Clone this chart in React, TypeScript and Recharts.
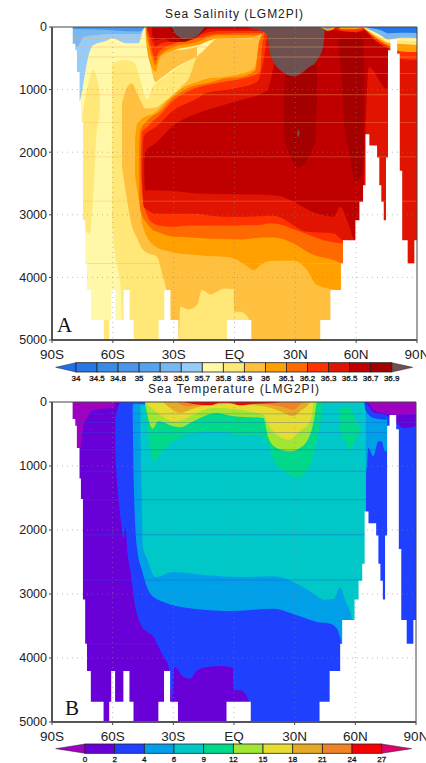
import React from "react";
import { ComposedChart, Area, Line, XAxis, YAxis, ReferenceArea } from "recharts";

type P = [number, number, number];

const latTicks = [-90, -60, -30, 0, 30, 60, 90];
const latLabels = ["90S", "60S", "30S", "EQ", "30N", "60N", "90N"];
const depthTicks = [0, 1000, 2000, 3000, 4000, 5000];
const modelLevels = [186, 319, 479, 745, 1083, 1527, 2075, 2782, 3777];

const salinityLevels = ["34", "34.5", "34.8", "35", "35.3", "35.5", "35.7", "35.8", "35.9", "36", "36.1", "36.2", "36.3", "36.5", "36.7", "36.9"];
const salinityColors = ["#1f6fe8", "#2578e6", "#3a8ae8", "#4a97ea", "#55a2ee", "#78b8f0", "#96ccf8", "#fff8a8", "#ffe878", "#ffc040", "#ffa000", "#ff6a00", "#ff3200", "#e01400", "#c00000", "#a50000", "#6e5050"];
const tempLevels = ["0", "2", "4", "6", "9", "12", "15", "18", "21", "24", "27"];
const tempColors = ["#a000c0", "#6a00d8", "#2040ff", "#00a0e8", "#00c8c8", "#00d88a", "#a0e632", "#e6dc32", "#e6aa28", "#f08228", "#fa0000", "#e0006e"];

// sea floor: depth at which each column ends
const seaFloor: [number, number][] = [
  [-90, 0], [-79.8, 266], [-78.5, 372], [-77.7, 718], [-76.4, 1197], [-75.7, 1516], [-74.7, 3086], [-73.6, 3777], [-72.7, 4203],
  [-70.8, 4682], [-64.5, 5000], [-61.7, 4682], [-60.7, 4203], [-58.8, 4682], [-54.7, 4203], [-51.7, 4682], [-49.7, 5000],
  [-37.4, 4682], [-34.6, 4203], [-31.6, 4682], [-27.7, 5000], [-3.7, 4682], [8.3, 5000], [42.3, 4682], [47.3, 4203], [52.5, 3777],
  [53.5, 3405], [59.6, 3086], [61.6, 2793], [63.4, 2527], [64.6, 1712], [66.5, 1894], [70.3, 2085], [71.4, 2527], [72.4, 2793],
  [73.6, 3086], [74.7, 2085], [75.7, 372], [76.9, 202], [80.2, 426], [81.5, 2298], [82.7, 3405], [85.4, 3777], [88.7, 3405], [90, 3405],
];

// ---- salinity regions: latitude, upper depth, lower depth
const sBase: P[] = [[-90, 0, 5000], [90, 0, 5000]];
const sFresh1: P[] = [[-80, 0, 1300], [-76.2, 0, 1165], [-73.7, 0, 739], [-72.1, 0, 473], [-69.6, 0, 287], [-63, 0, 218], [-60.6, 0, 181], [-53.2, 0, 260], [-47.4, 0, 260], [-45, 0, 48], [-44, 0, 0]];
const sFresh2: P[] = [[-80, 0, 260], [-77.5, 0, 320], [-74.5, 0, 160], [-69.6, 0, 130], [-60, 0, 110], [-47, 0, 110], [-44.5, 0, 0]];
const sFresh4: P[] = [[-80, 0, 30], [-66, 0, 40], [-58, 0, 60], [-47, 0, 70], [-45, 0, 30], [-44.5, 0, 0]];
const sYellowTongue: P[] = [[-75, 1400, 3086], [-72.1, 899, 3298], [-71.4, 800, 3298], [-69.6, 686, 2650], [-68, 800, 1700], [-66.5, 1050, 1450]];
const sYellowMain: P[] = [[-60.4, 585, 3139], [-58.8, 560, 3671], [-57.1, 540, 3937], [-56.3, 532, 4100], [-54.7, 532, 5000], [-49.7, 559, 5000], [-46.4, 851, 5000], [-44, 1117, 5000], [-42.5, 1150, 5000], [-41, 1000, 5000], [-39, 904, 5000], [-36.6, 850, 5000], [-30, 690, 5000], [-18.5, 479, 5000], [12.7, 0, 5000], [90, 0, 5000]];
const sYellowFloor: P[] = [[-64.5, 4682, 5000], [-61.7, 4682, 5000]];
const sOrangeMain: P[] = [[-55.5, 1224, 2234], [-53, 968, 2766], [-50.5, 904, 3192], [-48, 1064, 3378], [-45.6, 1224, 3538], [-44, 1303, 3591], [-38.2, 1277, 3671], [-35.7, 1224, 3937], [-33.6, 1170, 4203], [-31.6, 1144, 4655], [-30, 1091, 5000], [-27.5, 1011, 5000], [-26.7, 968, 4469], [-22.6, 825, 4511], [-18.5, 479, 4442], [-16, 399, 4203], [-11.9, 266, 4272], [-8.6, 186, 4229], [-5.3, 186, 4176], [-0.4, 186, 4187], [-0.2, 186, 4549], [2.9, 186, 4549], [7, 186, 4655], [8.3, 186, 5000], [9.5, 170, 5000], [12.7, 53, 5000], [90, 53, 5000]];
const sOrangeLobe: P[] = [[-42.8, 133, 372], [-40.7, 213, 718], [-39, 213, 878], [-36.6, 319, 825], [-30, 372, 665], [-18.5, 319, 479]];
const sUp36: P[] = [[-44, 0, 0], [-43.5, 0, 250], [-41.5, 0, 585], [-39, 0, 718], [-36.6, 0, 479], [-30, 0, 372], [-18.5, 0, 293], [-8.6, 0, 186], [9.5, 0, 170], [12.7, 0, 53], [14, 0, 0]];
const sUp361: P[] = [[-43.5, 0, 106], [-40.7, 0, 479], [-39, 0, 612], [-37.4, 0, 479], [-30, 0, 319], [-18.5, 0, 239], [-8.6, 0, 133], [9.5, 0, 133], [14.4, 0, 106]];
const sUp362: P[] = [[-43.1, 0, 80], [-40.7, 0, 372], [-39, 0, 532], [-37.4, 0, 399], [-30, 0, 266], [-18.5, 0, 186], [-8.6, 0, 106], [9.5, 0, 96], [14.4, 0, 96]];
const sUp363: P[] = [[-43.1, 0, 27], [-40.7, 0, 213], [-39, 0, 319], [-36.6, 0, 266], [-30, 0, 223], [-18.5, 0, 133], [-8.6, 0, 64], [9.5, 0, 64], [16, 0, 64]];
const sUp365: P[] = [[-40.7, 0, 106], [-39, 0, 213], [-34.9, 0, 186], [-30.8, 0, 239], [-25, 0, 239], [-18.5, 0, 133], [-14.4, 0, 53], [-13, 0, 27], [10, 0, 27]];
const sUp367: P[] = [[-32.5, 0, 20], [-30.8, 0, 80], [-25, 0, 223], [-18.5, 0, 160], [-14.4, 0, 40], [-13, 0, 0]];
const sUpMax: P[] = [[-30.8, 0, 0], [-29.2, 0, 106], [-25, 0, 186], [-20, 0, 170], [-15.2, 0, 27], [-14.5, 0, 0]];
const sBand36: P[] = [[-49, 1800, 2400], [-48, 1543, 2607], [-46.4, 1490, 2926], [-45.6, 1463, 3139], [-39.9, 1383, 3485], [-31.6, 1117, 3591], [-25, 958, 3628], [-18.5, 878, 3644], [-13.6, 825, 3660], [-5.3, 798, 3671], [-0.4, 771, 3697], [6.2, 718, 3820], [9.5, 665, 3884], [12.7, 266, 3804], [16, 53, 3750], [19.3, 0, 3735], [29.2, 0, 3735], [35.8, 0, 3884], [40.7, 0, 4123], [52.2, 0, 4203], [53, 0, 4203]];
const sBand361: P[] = [[-47, 1900, 2700], [-46.4, 1649, 2926], [-43.1, 1500, 3139], [-39.9, 1410, 3250], [-38.2, 1380, 3272], [-30, 1117, 3352], [-21.8, 958, 3362], [-13.6, 900, 3378], [-5.3, 825, 3385], [2.9, 800, 3394], [10.3, 692, 3370], [11.9, 266, 3365], [16, 27, 3362], [19.3, 0, 3362], [29.2, 0, 3458], [37.4, 0, 3618], [48.9, 0, 3724], [53.5, 0, 3788]];
const sBand362: P[] = [[-46.2, 2100, 2350], [-45.6, 1676, 2607], [-43.1, 1600, 3006], [-39.9, 1490, 3139], [-38.2, 1450, 3165], [-30, 1170, 3190], [-21.8, 1011, 3171], [-5.3, 878, 3171], [2.9, 830, 3171], [12.7, 718, 3160], [13.6, 319, 3158], [16, 27, 3139], [19.3, 0, 3139], [32.5, 0, 3272], [44, 0, 3405], [53.5, 0, 3458]];
const sBand363: P[] = [[-45.5, 2200, 2500], [-44.8, 1756, 2873], [-41.5, 1649, 2950], [-39.9, 1620, 2979], [-30, 1330, 2985], [-18.5, 1144, 2985], [-13.6, 1050, 3006], [-0.4, 985, 3032], [11.1, 878, 3025], [14.4, 532, 3020], [16.9, 53, 3017], [19.3, 0, 3017], [35.8, 0, 3272], [48.9, 0, 3298], [53.5, 0, 3405], [59.6, 0, 3431], [60, 0, 5000], [90, 0, 5000]];
const sBand365: P[] = [[-44.5, 2200, 2400], [-44, 1995, 2607], [-39, 1862, 2607], [-30, 1569, 2620], [-18.5, 1383, 2660], [-0.4, 1197, 2671], [16, 1011, 2680], [19.3, 638, 2690], [22.6, 106, 2700], [27.5, 53, 2766], [40.7, 27, 2979], [48.9, 53, 3032], [52.2, 53, 2873], [55.5, 53, 3086], [59.6, 53, 3405], [62.9, 53, 3405], [64.5, 53, 1700], [66.2, 106, 638], [75.2, 319, 985], [75.8, 319, 500]];
const sCol1: P[] = [[24.3, 1383, 1649], [25.1, 755, 1862], [26.7, 771, 1995], [31.7, 787, 2245], [35.8, 665, 2128], [38.2, 585, 1968], [39.9, 638, 1809], [40.7, 585, 1170]];
const sCol2: P[] = [[51.4, 186, 372], [53, 186, 904], [53.8, 186, 1436], [56.3, 186, 1968], [59.6, 160, 2447], [62.1, 160, 2394], [63.4, 213, 2288], [64, 638, 1170]];
const sDot: P[] = [[30.8, 1695, 1700], [31.5, 1639, 1756], [32.1, 1695, 1700]];
const sGrey: P[] = [[6.2, 0, 10], [9.5, 0, 27], [16, 0, 120], [17.6, 0, 426], [22.6, 0, 692], [29.2, 0, 787], [35.8, 0, 665], [40.7, 0, 532], [44, 0, 266], [44.5, 0, 60], [45, 0, 0]];
const sBlipOuter: P[] = [[42, 0, 0], [44, 0, 30], [46, 0, 60], [48.5, 0, 40], [50, 0, 0]];
const sBlipInner: P[] = [[44, 0, 8], [46, 0, 30], [48, 0, 12]];
const sStripRed: P[] = [[50, 0, 0], [52, 0, 60], [60, 0, 80], [64, 0, 35]];
const sStripOrange: P[] = [[52, 0, 30], [58, 0, 35], [64, 0, 10]];
const sNE362: P[] = [[64, 0, 35], [70, 0, 230], [76, 0, 340], [82, 0, 510], [90, 0, 527]];
const sNE361: P[] = [[64, 0, 25], [72, 0, 230], [76, 0, 300], [82, 0, 390], [90, 0, 399]];
const sNE359: P[] = [[64, 0, 20], [72, 0, 190], [76, 0, 255], [82, 0, 270], [90, 0, 287]];
const sNE357: P[] = [[64, 0, 12], [72, 0, 160], [76, 0, 230], [82, 0, 215], [90, 0, 224]];
const sNE355: P[] = [[64.5, 0, 10], [69, 0, 80], [72, 0, 130], [76, 0, 200], [82, 0, 170], [90, 0, 176]];
const sNE34: P[] = [[66, 0, 16], [72, 0, 50], [76, 0, 100], [82, 0, 90], [90, 0, 96]];

// ---- temperature regions
const tBase: P[] = [[-90, 0, 5000], [90, 0, 5000]];
const tBlue: P[] = [[-58.7, 234, 703], [-57.9, 156, 1224], [-57, 52, 1536], [-55.4, 0, 1995], [-54.6, 0, 2135], [-53.7, 0, 1953], [-52.6, 0, 2370], [-51.3, 0, 2630], [-48.8, 0, 3203], [-46.3, 0, 3463], [-43, 0, 3594], [-39.7, 0, 3672], [-37.3, 0, 3828], [-34.8, 0, 3984], [-32.3, 0, 4140], [-30.7, 0, 4661], [-29.4, 0, 4140], [-24.9, 0, 4297], [-21.6, 0, 4323], [-18.3, 0, 4192], [-13.4, 0, 4140], [-6, 0, 4125], [-0.5, 0, 4151], [-0.2, 0, 4505], [3.1, 0, 4505], [7.2, 0, 4661], [8.5, 0, 5000], [90, 0, 5000]];
const tSky: P[] = [[-50.1, 52, 182], [-49.6, 26, 1224], [-48, 26, 2265], [-45.5, 26, 2630], [-41.4, 26, 2995], [-34.8, 26, 3125], [-20, 0, 3229], [-0.5, 0, 3265], [19.6, 0, 3229], [31.1, 0, 3333], [41, 0, 3437], [47.6, 0, 3463], [50.9, 0, 3541], [53.4, 0, 3776], [63, 0, 5000], [64.9, 0, 3000], [65.3, 0, 1187], [65.8, 0, 980], [66.4, 0, 719], [68.9, 0, 849], [71.4, 0, 615], [73, 0, 615], [74.6, 0, 771], [75.7, 0, 771]];
const tTeal: P[] = [[-46.3, 52, 300], [-45.8, 52, 1224], [-45, 52, 2265], [-43, 26, 2450], [-38.9, 0, 2734], [-29.9, 0, 2656], [-13.4, 0, 2708], [3.1, 0, 2734], [19.6, 0, 2724], [29.5, 0, 2812], [39.4, 0, 2995], [44.3, 0, 3088], [49.3, 0, 3073], [52.5, 0, 2890], [55, 0, 3099], [58.3, 0, 3385], [59, 0, 5000], [65.2, 0, 5000]];
const tGreen: P[] = [[-44, 0, 146], [-41.5, 0, 667], [-39.5, 0, 927], [-35.7, 0, 771], [-30, 0, 615], [-20.1, 0, 484], [-8.6, 0, 458], [4.6, 0, 526], [11.2, 0, 510], [16.2, 0, 615], [19.5, 0, 901], [26, 0, 1109], [31.8, 0, 1187], [35.9, 0, 1083], [40.9, 0, 615], [43.4, 0, 146], [43.8, 0, 0]];
const tGreenPatch: P[] = [[52.4, 100, 460], [55, 94, 615], [57.3, 94, 745], [59.8, 250, 588], [62, 380, 484]];
const tLime: P[] = [[-44, 0, 10], [-43.2, 0, 146], [-40.2, 0, 417], [-37.4, 0, 302], [-30, 0, 380], [-26.7, 0, 396], [-20.1, 0, 302], [-16.8, 0, 250], [-8.6, 0, 172], [-0.3, 0, 224], [14.5, 0, 250], [17, 0, 562], [21.1, 0, 719], [27.7, 0, 771], [32.6, 0, 719], [37.6, 0, 510], [40, 0, 198], [40.9, 0, 0]];
const tYellow: P[] = [[-43.5, 0, 10], [-36.5, 0, 198], [-30, 0, 302], [-26.7, 0, 292], [-20.1, 0, 198], [-10, 0, 94], [14.5, 0, 198], [17, 0, 354], [21.1, 0, 510], [27.7, 0, 588], [32.6, 0, 458], [37.6, 0, 302], [39, 0, 94], [39.2, 0, 0]];
const tAmber: P[] = [[-35, 0, 0], [-31.6, 0, 94], [-26.7, 0, 172], [-21.7, 0, 120], [-13.5, 0, 52], [-2, 0, 31], [14.5, 0, 68], [22.8, 0, 146], [29.4, 0, 224], [32.6, 0, 146], [36, 0, 68], [37.6, 0, 0]];
const tOrange: P[] = [[-28.3, 0, 0], [-23.4, 0, 68], [-18.4, 0, 52], [-2, 0, 16], [14.5, 0, 31], [22.8, 0, 68], [29.4, 0, 120], [32.6, 0, 42], [34.3, 0, 0]];
const tRed: P[] = [[-25, 0, 0], [-20, 0, 31], [-11.8, 0, 52], [-6.9, 0, 10], [-2, 0, 16], [3, 0, 52], [9.6, 0, 31], [19.5, 0, 16], [22.8, 0, 0]];
const tColdSW: P[] = [[-80, 0, 339], [-78.4, 0, 443], [-77.6, 0, 729], [-76, 0, 729], [-74.3, 0, 339], [-72.7, 0, 260], [-70.2, 0, 130], [-59.5, 0, 78], [-58.7, 0, 0]];
const tBlueNE: P[] = [[64.3, 0, 0], [65.3, 0, 146], [68.9, 0, 250], [75.5, 0, 276]];
const tPurpleNE: P[] = [[64.8, 0, 0], [67.2, 0, 94], [69.7, 0, 172], [73.8, 0, 188], [80.4, 0, 328], [83.7, 0, 406], [90, 0, 380]];
const tColdNE: P[] = [[66.4, 0, 0], [68.9, 0, 120], [73, 0, 172], [75.5, 0, 182], [80.4, 0, 198], [90, 0, 188]];

const s = salinityColors;
const salinityLayers: [P[], string][] = [
  [sBase, s[7]], [sFresh1, s[6]], [sFresh2, s[5]], [sFresh4, s[3]],
  [sYellowTongue, s[8]], [sYellowMain, s[8]], [sYellowFloor, s[8]], [sOrangeMain, s[9]], [sOrangeLobe, s[9]],
  [sUp36, s[10]], [sUp361, s[11]], [sUp362, s[12]], [sUp363, s[13]], [sUp365, s[14]], [sUp367, s[15]], [sUpMax, s[16]],
  [sBand36, s[10]], [sBand361, s[11]], [sBand362, s[12]], [sBand363, s[13]], [sBand365, s[14]],
  [sCol1, s[15]], [sCol2, s[15]], [sDot, s[16]], [sGrey, s[16]],
  [sBlipOuter, s[10]], [sBlipInner, s[4]], [sStripRed, s[12]], [sStripOrange, s[10]],
  [sNE362, s[12]], [sNE361, s[10]], [sNE359, s[8]], [sNE357, s[7]], [sNE355, s[5]], [sNE34, s[1]],
];
const c = tempColors;
const tempLayers: [P[], string][] = [
  [tBase, c[1]], [tBlue, c[2]], [tSky, c[3]], [tTeal, c[4]], [tGreen, c[5]], [tGreenPatch, c[5]], [tLime, c[6]], [tYellow, c[7]], [tAmber, c[8]], [tOrange, c[9]], [tRed, c[10]],
  [tColdSW, c[0]], [tBlueNE, c[2]], [tPurpleNE, c[1]], [tColdNE, c[0]],
];

const rows = (pts: P[]) => pts.map(([lat, a, b]) => ({ lat, band: [a, b] }));
const FONT = "'Liberation Sans', Arial, sans-serif";

function Section({ layers, plotTop, plotH, plotRight, levelColor }: { layers: [P[], string][]; plotTop: number; plotH: number; plotRight: number; levelColor: string }) {
  const floorRows = seaFloor.map(([lat, d]) => ({ lat, band: [d, 5000] }));
  return (
    <ComposedChart width={426} height={plotTop + plotH + 30} margin={{ top: plotTop, right: 426 - plotRight, bottom: 0, left: 0 }}>
      <XAxis dataKey="lat" type="number" domain={[-90, 90]} ticks={latTicks} allowDataOverflow interval={0} height={30} tickSize={3} tickMargin={6}
        tickFormatter={(v: number) => latLabels[latTicks.indexOf(v)]} tick={{ fill: "#222", fontSize: 13.5, fontFamily: FONT }} axisLine={{ stroke: "#555", strokeWidth: 2 }} tickLine={{ stroke: "#444" }} />
      <YAxis type="number" reversed domain={[0, 5000]} ticks={depthTicks} allowDataOverflow interval={0} width={52} tickSize={3} tickMargin={2}
        tick={{ fill: "#222", fontSize: 12.5, fontFamily: FONT }} axisLine={{ stroke: "#555", strokeWidth: 2 }} tickLine={{ stroke: "#444" }} />
      {layers.map(([pts, color], i) => (
        <Area key={i} data={rows(pts)} dataKey="band" type="monotoneX" fill={color} fillOpacity={1} stroke="none" dot={false} activeDot={false} isAnimationActive={false} />
      ))}
      {modelLevels.map((d) => (
        <Area key={"l" + d} data={[{ lat: -90, band: [d - 7, d + 7] }, { lat: 90, band: [d - 7, d + 7] }]} dataKey="band" type="linear" fill={levelColor} fillOpacity={0.4} stroke="none" dot={false} activeDot={false} isAnimationActive={false} />
      ))}
      <Area data={floorRows} dataKey="band" type="stepAfter" fill="#fff" fillOpacity={1} stroke="none" dot={false} activeDot={false} isAnimationActive={false} />
      {latTicks.slice(1, -1).map((lat) => (
        <Line key={"g" + lat} data={[{ lat, depth: 0 }, { lat, depth: 5000 }]} dataKey="depth" stroke="#888" strokeOpacity={0.55} strokeWidth={1} strokeDasharray="1 4" dot={false} activeDot={false} isAnimationActive={false} />
      ))}
      {depthTicks.slice(1, -1).map((depth) => (
        <Line key={"h" + depth} data={[{ lat: -90, depth }, { lat: 90, depth }]} dataKey="depth" stroke="#888" strokeOpacity={0.55} strokeWidth={1} strokeDasharray="1 4" dot={false} activeDot={false} isAnimationActive={false} />
      ))}
      <ReferenceArea x1={-90} x2={90} y1={0} y2={5000} fill="none" stroke="#444" strokeWidth={1} ifOverflow="visible" />
    </ComposedChart>
  );
}

function ColorBar({ levels, colors, x0, x1, tipL, tipR, y, h }: { levels: string[]; colors: string[]; x0: number; x1: number; tipL: number; tipR: number; y: number; h: number }) {
  const w = (x1 - x0) / (levels.length - 1);
  return (
    <g>
      <polygon points={`${tipL},${y + h / 2} ${x0},${y} ${x0},${y + h}`} fill={colors[0]} stroke="#222" strokeWidth={0.5} />
      <polygon points={`${tipR},${y + h / 2} ${x1},${y} ${x1},${y + h}`} fill={colors[colors.length - 1]} stroke="#222" strokeWidth={0.5} />
      {levels.slice(1).map((_, i) => (
        <rect key={i} x={x0 + i * w} y={y} width={w} height={h} fill={colors[i + 1]} stroke="#222" strokeWidth={0.8} />
      ))}
      {levels.map((t, i) => (
        <text key={t} x={x0 + i * w} y={y + h + 9} textAnchor="middle" fontSize={8} fontFamily={FONT} fill="#111" stroke="#111" strokeWidth={0.3}>{t}</text>
      ))}
    </g>
  );
}

export default function App() {
  return (
    <div style={{ position: "absolute", left: 0, top: 0, width: 426, height: 763, overflow: "hidden", background: "#fff" }}>
      <div style={{ position: "absolute", left: 0, top: 0 }}>
        <Section layers={salinityLayers} plotTop={27} plotH={313} plotRight={417} levelColor="#ffb060" />
      </div>
      <div style={{ position: "absolute", left: 0, top: 0 }}>
        <Section layers={tempLayers} plotTop={402} plotH={320} plotRight={416} levelColor="#1e50d0" />
      </div>
      <svg width={426} height={763} style={{ position: "absolute", left: 0, top: 0, pointerEvents: "none" }}>
        <text x={165} y={17.5} fontSize={12} fontFamily={FONT} fill="#222" textLength={138} lengthAdjust="spacing">Sea Salinity (LGM2PI)</text>
        <text x={148} y={393} fontSize={12} fontFamily={FONT} fill="#222" textLength={171} lengthAdjust="spacing">Sea Temperature (LMG2PI)</text>
        <text x={57} y={332} fontSize={21} fontFamily="'Liberation Serif', serif" fill="#111">A</text>
        <text x={65} y={715} fontSize={21} fontFamily="'Liberation Serif', serif" fill="#111">B</text>
        <ColorBar levels={salinityLevels} colors={salinityColors} x0={76} x1={391.7} tipL={55.7} tipR={412.7} y={362.7} h={9.3} />
        <ColorBar levels={tempLevels} colors={tempColors} x0={85} x1={381.7} tipL={55.7} tipR={411.7} y={744} h={9.3} />
      </svg>
    </div>
  );
}
